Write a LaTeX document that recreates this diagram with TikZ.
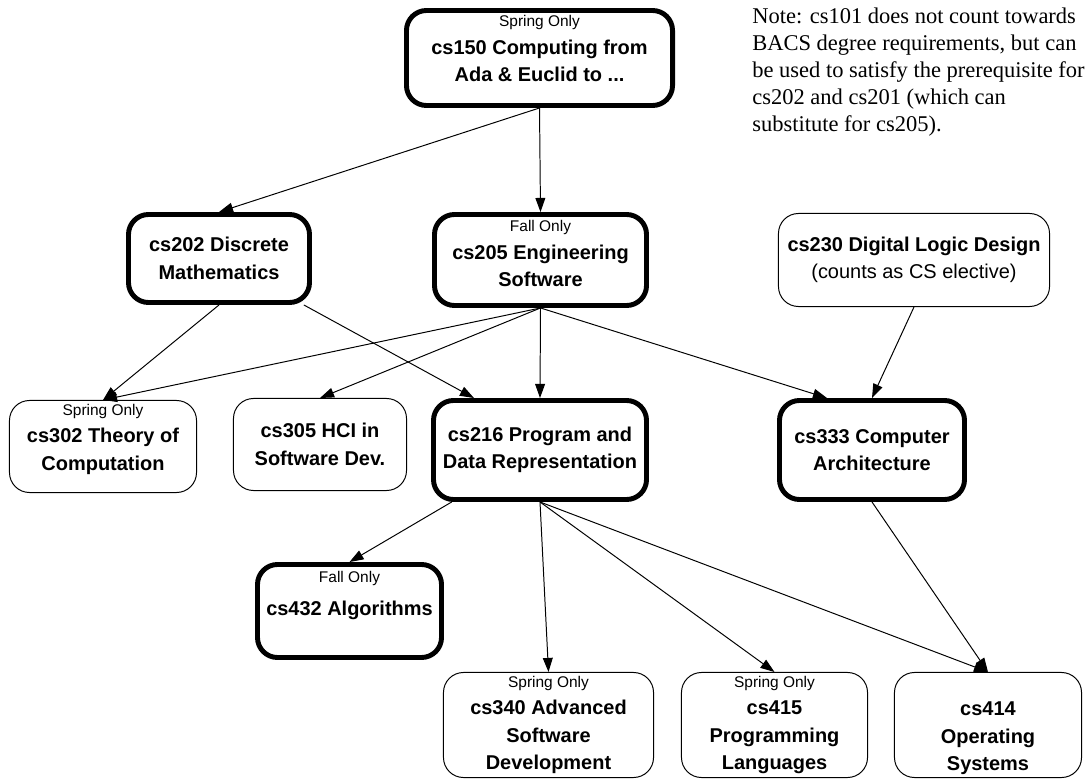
\documentclass[tikz,border=0pt]{standalone}
\usepackage{fontspec}
\setmainfont{Liberation Sans}
\newfontfamily\notefont{Liberation Serif}
\usetikzlibrary{arrows.meta}
\tikzset{
    course/.style={draw,rounded corners=0.5cm,align=center,inner sep=0pt,line width=0.7pt,font=\bfseries\fontsize{14.2}{19.5}\selectfont},
    corecourse/.style={course,line width=3.5pt},
    prereq/.style={-{Triangle[length=10pt,width=7pt]},line width=0.7pt},
    note/.style={anchor=north west,align=left,inner sep=0pt,font=\notefont\fontsize{16}{19.2}\selectfont}
}
\newcommand{\term}[1]{{\mdseries\fontsize{11}{13}\selectfont #1}}

\begin{document}
\begin{tikzpicture}[x=0.025cm,y=-0.025cm]
\useasboundingbox (0,0) rectangle (1091,780);

% top row
\node[corecourse,minimum width=6.65cm,minimum height=2.375cm] (cs150) at (539.5,58) {\term{Spring Only}\\cs150 Computing from\\Ada \& Euclid to ...\\[-12pt]\strut};
\node[note] (note) at (752,8) {Note: cs101 does not count towards\\BACS degree requirements, but can\\be used to satisfy the prerequisite for\\cs202 and cs201 (which can\\substitute for cs205).};

% second row
\node[corecourse,minimum width=4.525cm,minimum height=2.2cm] (cs202) at (219,258.5) {cs202 Discrete\\Mathematics};
\node[corecourse,minimum width=5.3cm,minimum height=2.275cm] (cs205) at (540.5,260) {\term{Fall Only}\\cs205 Engineering\\Software\\[-16pt]\strut};
\node[course,minimum width=6.775cm,minimum height=2.325cm] (cs230) at (914,260) {cs230 Digital Logic Design\\\mdseries(counts as CS elective)};

% third row
\node[course,minimum width=4.675cm,minimum height=2.3cm] (cs302) at (103,446.5) {\term{Spring Only}\\cs302 Theory of\\Computation\\[-12pt]\strut};
\node[course,minimum width=4.325cm,minimum height=2.3cm] (cs305) at (320,444.5) {cs305 HCI in\\Software Dev.};
\node[corecourse,minimum width=5.325cm,minimum height=2.475cm] (cs216) at (540,450) {cs216 Program and\\Data Representation};
\node[corecourse,minimum width=4.625cm,minimum height=2.475cm] (cs333) at (872,450) {cs333 Computer\\Architecture};

% upper level
\node[corecourse,minimum width=4.6cm,minimum height=2.325cm] (cs432) at (349.5,611) {\term{Fall Only}\\[4pt]cs432 Algorithms\\\strut};
\node[course,minimum width=5.25cm,minimum height=2.625cm] (cs340) at (548.5,725) {\term{Spring Only}\\cs340 Advanced\\Software\\Development};
\node[course,minimum width=4.65cm,minimum height=2.625cm] (cs415) at (774.5,725) {\term{Spring Only}\\cs415\\Programming\\Languages};
\node[course,minimum width=4.675cm,minimum height=2.625cm] (cs414) at (988,725) {\term{\strut}\\cs414\\Operating\\Systems};

% prerequisites
\draw[prereq] (cs150.south) -- (cs205.north);
\draw[prereq] (cs150.south) -- (cs202.north);
\draw[prereq] (cs202.south) -- (cs302.north);
\draw[prereq] (cs202) -- ([xshift=-1.65cm]cs216.north);
\draw[prereq] (cs205.south) -- (cs302.north);
\draw[prereq] (cs205.south) -- (cs305.north);
\draw[prereq] (cs205.south) -- (cs216.north);
\draw[prereq] (cs205.south) -- ([xshift=-1.125cm]cs333.north);
\draw[prereq] (cs230.south) -- (cs333.north);
\draw[prereq] (cs216) -- (cs432.north);
\draw[prereq] (cs216.south) -- (cs340.north);
\draw[prereq] (cs216.south) -- (cs415.north);
\draw[prereq] (cs216.south) -- (cs414.north);
\draw[prereq] (cs333.south) -- (cs414.north);

\end{tikzpicture}
\end{document}
